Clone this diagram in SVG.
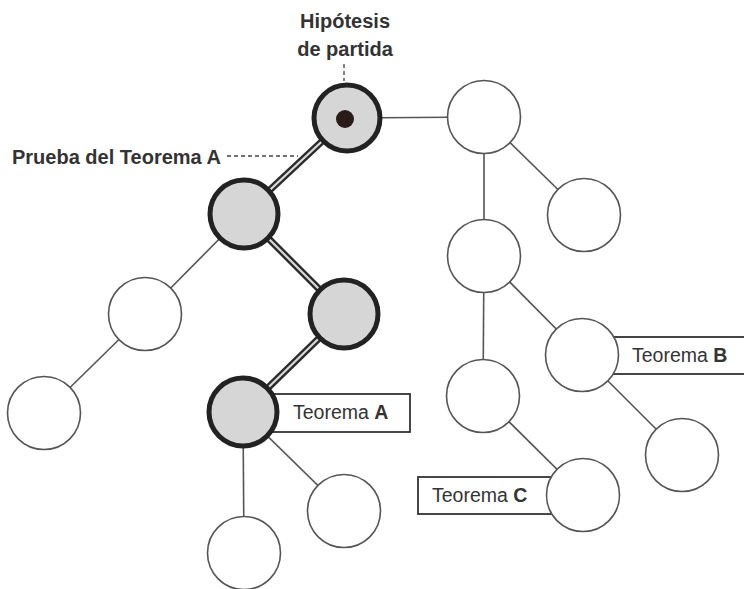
<svg xmlns="http://www.w3.org/2000/svg" width="744" height="589" viewBox="0 0 744 589">
<style>
.thin{stroke:#555;stroke-width:1.6;fill:none}
.proofO{stroke:#2b2b2b;stroke-width:7;fill:none;stroke-linecap:butt}
.proofI{stroke:#d8d8d8;stroke-width:2.2;fill:none}
.plain{fill:#fff;stroke:#555;stroke-width:1.6}
.hl{fill:#d6d6d6;stroke:#222;stroke-width:5}
.box{fill:#fff;stroke:#333;stroke-width:1.8}
.lbl{font-family:"Liberation Sans",Arial,sans-serif;font-size:19.5px;fill:#333}
.bold{font-family:"Liberation Sans",Arial,sans-serif;font-size:20px;font-weight:bold;fill:#333}
.dash{stroke:#444;stroke-width:1.3;stroke-dasharray:4 3;fill:none}
</style>
<rect width="744" height="589" fill="#fff"/>
<g id="connectors">
<line class="thin" x1="347" y1="118" x2="484" y2="117"/>
<line class="thin" x1="244" y1="214" x2="145" y2="314"/>
<line class="thin" x1="145" y1="314" x2="44" y2="413"/>
<line class="thin" x1="243" y1="412" x2="244" y2="553"/>
<line class="thin" x1="243" y1="412" x2="344" y2="511"/>
<line class="thin" x1="484" y1="117" x2="584" y2="215"/>
<line class="thin" x1="484" y1="117" x2="484" y2="256"/>
<line class="thin" x1="484" y1="256" x2="582" y2="355"/>
<line class="thin" x1="484" y1="256" x2="483" y2="396"/>
<line class="thin" x1="582" y1="355" x2="682" y2="455"/>
<line class="thin" x1="483" y1="396" x2="583" y2="495"/>
<polyline class="proofO" points="347,118 244,214 344,314 243,412"/>
<polyline class="proofI" points="347,118 244,214 344,314 243,412"/>
<line class="dash" x1="344" y1="64" x2="344" y2="81"/>
<line class="dash" x1="227" y1="156" x2="298" y2="156"/>
</g>
<g id="boxA"><rect class="box" x="270" y="394" width="140" height="38"/></g>
<g id="boxB"><rect class="box" x="610" y="337" width="150" height="37"/></g>
<g id="boxC"><rect class="box" x="418" y="477" width="140" height="37"/></g>
<g id="root"><circle class="hl" cx="347" cy="118" r="33"/><circle cx="345" cy="119" r="9" fill="#2a1a1a"/></g>
<g id="n2"><circle class="hl" cx="244" cy="214" r="34"/></g>
<g id="n3"><circle class="hl" cx="344" cy="314" r="34"/></g>
<g id="n4"><circle class="hl" cx="243" cy="412" r="34"/></g>
<g id="l1"><circle class="plain" cx="145" cy="314" r="36.5"/></g>
<g id="l2"><circle class="plain" cx="44" cy="413" r="36.5"/></g>
<g id="b1"><circle class="plain" cx="244" cy="553" r="36.5"/></g>
<g id="b2"><circle class="plain" cx="344" cy="511" r="36.5"/></g>
<g id="r1"><circle class="plain" cx="484" cy="117" r="36.5"/></g>
<g id="r2"><circle class="plain" cx="584" cy="215" r="36.5"/></g>
<g id="r3"><circle class="plain" cx="484" cy="256" r="36.5"/></g>
<g id="r4"><circle class="plain" cx="582" cy="355" r="36.5"/></g>
<g id="r5"><circle class="plain" cx="483" cy="396" r="36.5"/></g>
<g id="r6"><circle class="plain" cx="682" cy="455" r="36.5"/></g>
<g id="r7"><circle class="plain" cx="583" cy="495" r="36.5"/></g>
<g id="labels">
<text class="bold" x="345" y="28" text-anchor="middle">Hipótesis</text>
<text class="bold" x="345" y="56" text-anchor="middle">de partida</text>
<text class="bold" x="12" y="164">Prueba del Teorema A</text>
<text class="lbl" x="293" y="419">Teorema <tspan font-weight="bold">A</tspan></text>
<text class="lbl" x="632" y="362">Teorema <tspan font-weight="bold">B</tspan></text>
<text class="lbl" x="432" y="502">Teorema <tspan font-weight="bold">C</tspan></text>
</g>
</svg>
